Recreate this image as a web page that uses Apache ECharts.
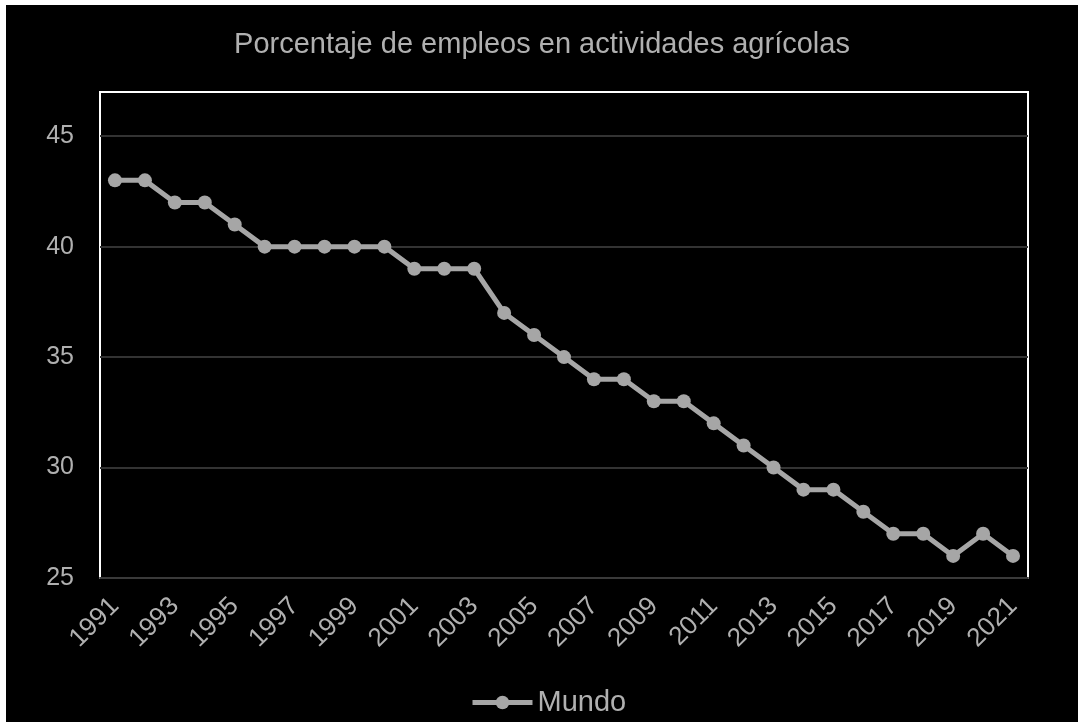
<!DOCTYPE html>
<html>
<head>
<meta charset="utf-8">
<script src="https://cdn.jsdelivr.net/npm/echarts@6/dist/echarts.min.js"></script>
<style>
  html, body { margin: 0; padding: 0; background: #ffffff; width: 1078px; height: 722px; overflow: hidden; }
  #chart { position: absolute; left: 6px; top: 5px; width: 1072px; height: 717px; background: #000000; }
</style>
</head>
<body>
<div id="chart"></div>
<script>
// Share of employment in agriculture, world, 1991–2021
const years = ['1991','1992','1993','1994','1995','1996','1997','1998','1999','2000',
  '2001','2002','2003','2004','2005','2006','2007','2008','2009','2010',
  '2011','2012','2013','2014','2015','2016','2017','2018','2019','2020','2021'];
const mundo = [43, 43, 42, 42, 41, 40, 40, 40, 40, 40,
  39, 39, 39, 37, 36, 35, 34, 34, 33, 33,
  32, 31, 30, 29, 29, 28, 27, 27, 26, 27, 26];
const seriesName = 'Mundo';
const titleText = 'Porcentaje de empleos en actividades agrícolas';

const textColor = '#b0b0b0';
const lineColor = '#a6a6a6';
const font = 'Liberation Sans, Arial, sans-serif';

const chart = echarts.init(document.getElementById('chart'));
chart.setOption({
  backgroundColor: '#000000',
  animation: false,
  title: {
    text: titleText,
    left: 'center',
    top: 20,
    textStyle: { color: textColor, fontSize: 29, fontWeight: 'normal', fontFamily: font }
  },
  legend: {
    data: [seriesName],
    bottom: 0,
    left: 459,
    itemWidth: 60,
    itemHeight: 17,
    lineStyle: { width: 5, color: lineColor },
    textStyle: { color: textColor, fontSize: 29, fontFamily: font, padding: [0, 0, 0, 0] }
  },
  grid: {
    left: 94, right: 50, top: 87, bottom: 144,
    show: true,
    borderColor: '#ffffff',
    borderWidth: 2,
    backgroundColor: 'transparent'
  },
  xAxis: {
    type: 'category',
    data: years,
    boundaryGap: true,
    axisLine: { show: true, lineStyle: { color: '#3a3a3a', width: 2 } },
    axisTick: { show: false },
    axisLabel: {
      interval: 1,
      rotate: 45,
      color: textColor,
      fontSize: 26,
      fontFamily: font,
      margin: 24
    }
  },
  yAxis: {
    type: 'value',
    min: 25,
    max: 47,
    interval: 5,
    axisLine: { show: false },
    axisTick: { show: false },
    splitLine: { showMinLine: false, showMaxLine: false, lineStyle: { color: '#333333', width: 2 } },
    axisLabel: {
      color: textColor,
      fontSize: 25,
      fontFamily: font,
      margin: 26,
      showMaxLabel: false
    }
  },
  series: [{
    name: seriesName,
    type: 'line',
    data: mundo,
    symbol: 'circle',
    symbolSize: 14,
    lineStyle: { color: lineColor, width: 5 },
    itemStyle: { color: lineColor }
  }]
});
</script>
</body>
</html>
